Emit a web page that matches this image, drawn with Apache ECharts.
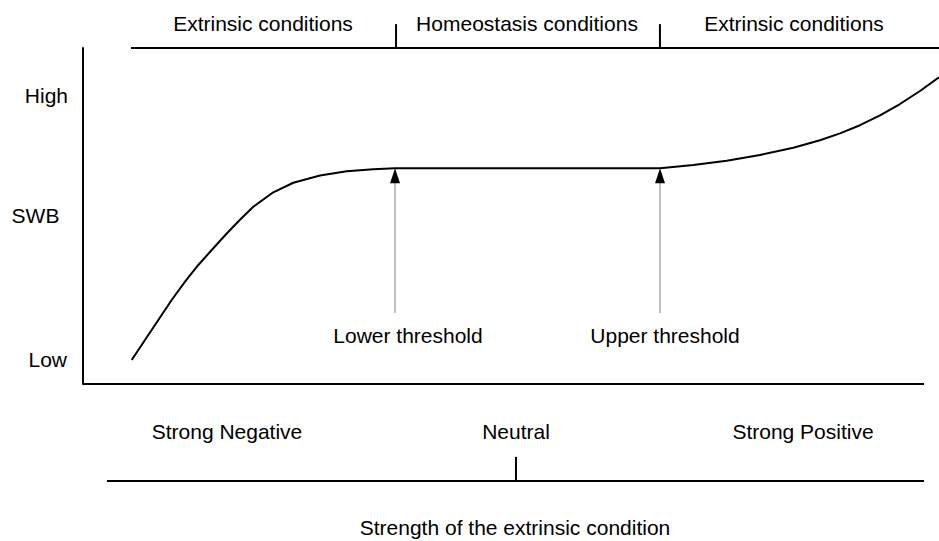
<!DOCTYPE html>
<html>
<head>
<meta charset="utf-8">
<script src="https://cdn.jsdelivr.net/npm/echarts@6/dist/echarts.min.js"></script>
<style>html,body{margin:0;padding:0;background:#fff;}#main{width:939px;height:541px;}</style>
</head>
<body>
<div id="main"></div>
<script>
// ---- data (abstract 0-100 scales) ----
const curveX = [5.69, 7.24, 8.80, 10.36, 11.92, 13.47, 15.04, 16.79, 18.34, 19.89, 22.23, 24.57, 27.69, 30.81, 33.91, 36.45,
                52.0, 67.41, 71.30, 75.20, 79.09, 82.98, 86.10, 88.43, 90.77, 93.11, 95.44, 97.78, 100];
const curveY = [7.14, 13.10, 19.05, 25.0, 30.45, 35.42, 39.88, 44.79, 48.9, 52.77, 57.05, 59.9, 62.05, 63.33, 63.9, 64.2,
                64.2, 64.2, 65.18, 66.46, 68.15, 70.33, 72.56, 74.58, 77.02, 79.94, 83.33, 87.2, 91.28];
const thresholdX = [36.45, 67.41];
const plateauY = 64.2;
const thresholdLabels = ['Lower threshold', 'Upper threshold'];
const topLabels = ['Extrinsic conditions', 'Homeostasis conditions', 'Extrinsic conditions'];
const bottomLabels = ['Strong Negative', 'Neutral', 'Strong Positive'];
const yLabels = ['Low', 'SWB', 'High'];
const xTitle = 'Strength of the extrinsic condition';

const FONT = '21px "Liberation Sans", Arial, sans-serif';
const chart = echarts.init(document.getElementById('main'), null, {renderer: 'svg'});

const lineBase = {type: 'line', symbol: 'none', silent: true, clip: false, animation: false};

const series = [
  Object.assign({}, lineBase, {
    name: 'SWB', z: 5,
    data: curveX.map((x, i) => [x, curveY[i]]),
    smooth: false,
    lineStyle: {color: '#000', width: 2, join: 'round'}
  }),
  // x axis line
  Object.assign({}, lineBase, {data: [[0, 0], [98.25, 0]], lineStyle: {color: '#000', width: 2}}),
  // top bracket
  Object.assign({}, lineBase, {data: [[5.6, 100], [100, 100]], lineStyle: {color: '#000', width: 2}}),
  Object.assign({}, lineBase, {data: [[36.57, 100], [36.57, 107.1]], lineStyle: {color: '#000', width: 2}}),
  Object.assign({}, lineBase, {data: [[67.4, 100], [67.4, 107.1]], lineStyle: {color: '#000', width: 2}}),
  // lower scale
  Object.assign({}, lineBase, {data: [[2.8, -28.9], [98.25, -28.9]], lineStyle: {color: '#000', width: 2}}),
  Object.assign({}, lineBase, {data: [[50.58, -28.9], [50.58, -21.7]], lineStyle: {color: '#000', width: 2}})
];
// threshold arrows
thresholdX.forEach(x => {
  series.push(Object.assign({}, lineBase, {z: 2, data: [[x, 21.1], [x, plateauY - 3]], lineStyle: {color: '#808080', width: 1}}));
});
series.push({
  type: 'scatter', silent: true, animation: false, clip: false, z: 10,
  symbol: 'triangle', symbolSize: [10, 15], symbolOffset: [0, 7.5],
  itemStyle: {color: '#000', opacity: 1},
  data: thresholdX.map(x => [x, plateauY])
});

function txt(text, x, y, align) {
  return {type: 'text', x: x, y: y, silent: true,
    style: {text: text, font: FONT, fill: '#000', align: align || 'center', verticalAlign: 'middle'}};
}

const graphics = [
  txt(topLabels[0], 263, 23), txt(topLabels[1], 527, 23), txt(topLabels[2], 794, 23),
  txt(thresholdLabels[0], 408, 335), txt(thresholdLabels[1], 665, 335),
  txt(bottomLabels[0], 227, 431), txt(bottomLabels[1], 516, 431), txt(bottomLabels[2], 803, 431),
  txt(xTitle, 515, 527),
  txt(yLabels[2], 68, 95, 'right'), txt(yLabels[1], 35.5, 215), txt(yLabels[0], 67, 359, 'right')
];

chart.setOption({
  animation: false,
  backgroundColor: '#fff',
  grid: {left: 83, right: 0, top: 48, bottom: 157},
  xAxis: {type: 'value', min: 0, max: 100, show: false},
  yAxis: {type: 'value', min: 0, max: 100,
    axisLine: {show: true, lineStyle: {color: '#000', width: 2}},
    axisTick: {show: false}, axisLabel: {show: false}, splitLine: {show: false}},
  series: series,
  graphic: graphics
});
</script>
</body>
</html>
